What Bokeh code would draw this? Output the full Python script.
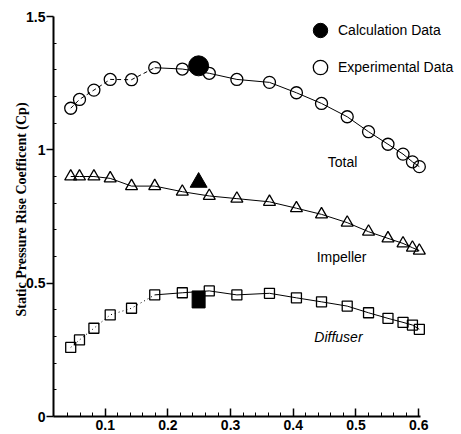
import math
from bokeh.plotting import figure
from bokeh.models import FixedTicker, Label, Range1d, Legend, LegendItem
from bokeh.embed import file_html
from bokeh.resources import INLINE

# ---- data ----
flow = [0.045, 0.059, 0.082, 0.108, 0.142, 0.179, 0.223, 0.266, 0.310, 0.362,
        0.405, 0.445, 0.486, 0.520, 0.551, 0.575, 0.590, 0.601]
total = [1.156, 1.189, 1.224, 1.264, 1.263, 1.308, 1.303, 1.287, 1.264, 1.253,
         1.214, 1.174, 1.124, 1.068, 1.021, 0.984, 0.955, 0.937]
impeller = [0.900, 0.900, 0.900, 0.893, 0.864, 0.864, 0.843, 0.827, 0.817, 0.805,
            0.781, 0.758, 0.727, 0.693, 0.668, 0.649, 0.633, 0.622]
diffuser = [0.259, 0.287, 0.331, 0.381, 0.406, 0.456, 0.464, 0.471, 0.456, 0.462,
            0.445, 0.430, 0.414, 0.389, 0.368, 0.353, 0.343, 0.327]

calc_flow = [0.249]
calc_total = [1.315]
calc_impeller = [0.878]
calc_diffuser = [0.439]

y_ticks = [0, 0.5, 1, 1.5]
y_minor = [0.1, 0.2, 0.3, 0.4, 0.6, 0.7, 0.8, 0.9, 1.1, 1.2, 1.3, 1.4]
x_ticks = [0.1, 0.2, 0.3, 0.4, 0.5, 0.6]
x_minor = [0.04, 0.06, 0.08, 0.12, 0.14, 0.16, 0.18, 0.22, 0.24, 0.26, 0.28,
           0.32, 0.34, 0.36, 0.38, 0.42, 0.44, 0.46, 0.48, 0.52, 0.54, 0.56, 0.58]

series_labels = ["Total", "Impeller", "Diffuser"]
legend_labels = ["Calculation Data", "Experimental Data"]
y_title = "Static Pressure Rise Coefficent (Cp)"

# axis extents (the frame is a little larger; axis lines stop here)
x_lo, x_hi = 0.01755, 0.6029
y_lo, y_hi = 0.0, 1.5

# ---- figure ----
p = figure(width=461, height=434, output_backend="svg", toolbar_location=None,
           x_range=Range1d(x_lo, 0.66507), y_range=Range1d(y_lo, 1.5525),
           min_border_left=53, min_border_right=2, min_border_top=2,
           min_border_bottom=18)
p.outline_line_color = None
p.grid.visible = False
p.background_fill_color = "white"
p.border_fill_color = "white"

split = 6  # left part of the curves is drawn broken
# Total
p.line(flow[:split], total[:split], line_color="black", line_width=1, line_dash="4 3")
p.line(flow[split - 1:], total[split - 1:], line_color="black", line_width=1)
# Impeller
p.line(flow, impeller, line_color="black", line_width=1)
# Diffuser
p.line(flow[:split], diffuser[:split], line_color="black", line_width=1, line_dash="1 3")
p.line(flow[split - 1:], diffuser[split - 1:], line_color="black", line_width=1)

exp_r = p.scatter(flow, total, marker="circle", size=12, fill_alpha=0,
                  line_color="black", line_width=1.3)
p.scatter(flow, impeller, marker="triangle", size=12, fill_alpha=0,
          line_color="black", line_width=1.3)
p.scatter(flow, diffuser, marker="square", size=10, fill_alpha=0,
          line_color="black", line_width=1.3)

calc_r = p.scatter(calc_flow, calc_total, marker="circle", size=20,
                   fill_color="black", line_color="black")
p.scatter(calc_flow, calc_impeller, marker="triangle", size=17,
          fill_color="black", line_color="black")
p.rect(calc_flow, calc_diffuser, width=13, height=17, width_units="screen",
       height_units="screen", fill_color="black", line_color="black")

# ---- legend ----
legend = Legend(items=[LegendItem(label=legend_labels[0], renderers=[calc_r]),
                       LegendItem(label=legend_labels[1], renderers=[exp_r])],
                location=(249, 331), orientation="vertical",
                glyph_width=36, glyph_height=36, label_standoff=-5, spacing=1,
                padding=0, margin=0, border_line_color=None,
                background_fill_alpha=0,
                label_text_font="Liberation Sans", label_text_font_size="14px",
                label_text_color="black")
p.add_layout(legend, "center")

# ---- axes ----
p.yaxis.ticker = FixedTicker(ticks=y_ticks, minor_ticks=y_minor)
p.xaxis.ticker = FixedTicker(ticks=x_ticks, minor_ticks=x_minor)
p.xaxis.bounds = (x_lo, x_hi)
p.yaxis.bounds = (y_lo, y_hi)
p.yaxis.major_label_overrides = {0: "0", 0.5: "0.5", 1: "1", 1.5: "1.5"}
for ax in (p.xaxis, p.yaxis):
    ax.axis_line_width = 2
    ax.axis_line_color = "black"
    ax.major_tick_line_color = "black"
    ax.minor_tick_line_color = "black"
    ax.major_tick_line_width = 1.5
    ax.minor_tick_line_width = 1
    ax.major_label_text_font = "Liberation Sans"
    ax.major_label_text_font_style = "bold"
    ax.major_label_text_font_size = "14px"
    ax.major_label_text_color = "black"
p.yaxis.major_tick_out = 7
p.yaxis.major_tick_in = 0
p.yaxis.minor_tick_in = 3
p.yaxis.minor_tick_out = 0
p.yaxis.major_label_standoff = 1
p.xaxis.major_tick_in = 8
p.xaxis.major_tick_out = 0
p.xaxis.minor_tick_in = 4
p.xaxis.minor_tick_out = 0
p.xaxis.major_label_standoff = 3

p.yaxis.axis_label = y_title
p.yaxis.axis_label_text_font = "Liberation Serif"
p.yaxis.axis_label_text_font_style = "bold"
p.yaxis.axis_label_text_font_size = "14px"
p.yaxis.axis_label_text_color = "black"
p.yaxis.axis_label_standoff = -6

# ---- text annotations ----
p.add_layout(Label(x=0.4785, y=0.954, text=series_labels[0], text_align="center",
                   text_baseline="middle", text_font="Liberation Sans",
                   text_font_size="14px", text_color="black"))
p.add_layout(Label(x=0.477, y=0.600, text=series_labels[1], text_align="center",
                   text_baseline="middle", text_font="Liberation Sans",
                   text_font_size="14px", text_color="black"))
p.add_layout(Label(x=0.472, y=0.299, text=series_labels[2], text_align="center",
                   text_baseline="middle", text_font="Liberation Sans",
                   text_font_style="italic", text_font_size="14px",
                   text_color="black"))

open("out.html", "w").write(file_html(p, INLINE))
